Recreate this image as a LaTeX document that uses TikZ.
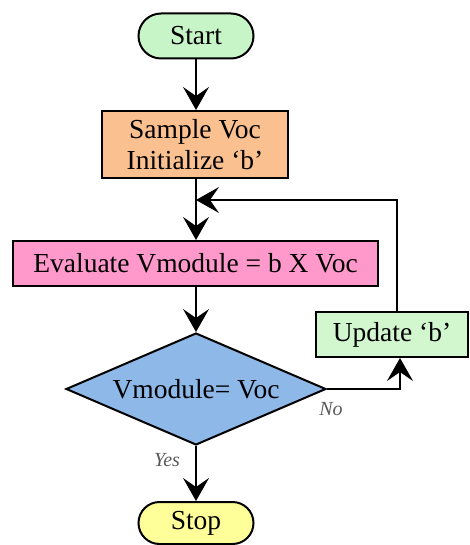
\documentclass[tikz,border=0pt]{standalone}
\usepackage{fontspec}
\setmainfont{Liberation Serif}
\usetikzlibrary{shapes.misc,shapes.geometric,arrows.meta}

\definecolor{startgreen}{HTML}{C8F5C8}
\definecolor{sampleorange}{HTML}{FAC090}
\definecolor{evalpink}{HTML}{FF99CC}
\definecolor{diamondblue}{HTML}{8EB8E8}
\definecolor{updategreen}{HTML}{D2F7CF}
\definecolor{stopyellow}{HTML}{FFFF99}

\tikzset{
  base/.style={draw=black, line width=2pt, inner sep=0pt, align=center,
    font=\fontsize{27.5}{31}\selectfont},
  terminal/.style={base, rounded rectangle, minimum width=115pt, minimum height=45pt},
  process/.style={base, rectangle},
  decision/.style={base, diamond, shape aspect=2.32, minimum width=260pt, minimum height=112pt},
  flow/.style={line width=1.6pt, -{Stealth[length=23pt, width=26pt, inset=9pt]}},
  branch/.style={font=\itshape\fontsize{20}{22}\selectfont, text=black!65}
}

\begin{document}
\begin{tikzpicture}[x=1pt, y=-1pt]
  \useasboundingbox (0,0) rectangle (470,545);

  \node[terminal, fill=startgreen] (start) at (196,36) {Start};
  \node[process, fill=sampleorange, minimum width=186pt, minimum height=67pt]
    (sample) at (195,144.5) {Sample Voc\\Initialize ‘b’};
  \node[process, fill=evalpink, minimum width=365pt, minimum height=45pt]
    (eval) at (195.5,263.5) {Evaluate Vmodule = b X Voc};
  \node[decision, fill=diamondblue] (check) at (196,389) {Vmodule= Voc};
  \node[process, fill=updategreen, minimum width=152pt, minimum height=45pt]
    (update) at (392,334.5) {Update ‘b’};
  \node[terminal, fill=stopyellow, minimum height=42pt] (stop) at (196,523) {Stop};

  \coordinate (merge) at (196,200);
  \coordinate (turn) at (397,200);
  \coordinate (noturn) at (400,389);

  \draw[flow] (start.south) -- (sample.north -| start.south);
  \draw[flow] (sample.south -| merge) -- (eval.north -| merge);
  \draw[flow] (eval.south -| merge) -- (check.north);
  \draw[flow] (update.north -| turn) -- (turn) -- (merge);
  \draw[flow] (check.east) -- (noturn) -- (update.south -| noturn);
  \draw[flow] (check.south) -- (stop.north);

  \node[branch] (nolabel) at (331,409) {No};
  \node[branch] (yeslabel) at (167,460) {Yes};
\end{tikzpicture}
\end{document}
